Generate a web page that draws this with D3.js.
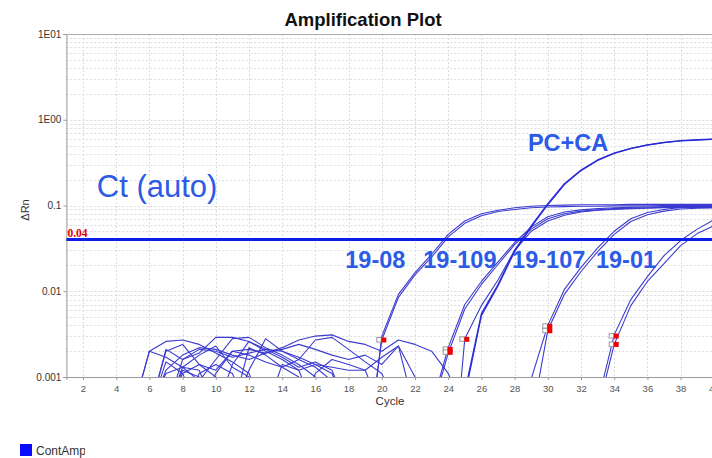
<!DOCTYPE html>
<html>
<head>
<meta charset="utf-8">
<script src="https://cdn.jsdelivr.net/npm/d3@7"></script>
<style>
  body { margin: 0; background: #fff; }
  svg { display: block; font-family: "Liberation Sans", Arial, sans-serif; }
</style>
</head>
<body>
<script>
"use strict";
(function(){
    // dimensions for svg
    const measurements = {
        width: 712,
        height: 458,
        left: 66.4,
        top: 34,
        bottom: 377,
        cycleWidth: 16.6
    }

    // ---- data ----
    const xTicks = [2, 4, 6, 8, 10, 12, 14, 16, 18, 20, 22, 24, 26, 28, 30, 32, 34, 36, 38, 40]
    const yTicks = [0.001, 0.01, 0.1, 1, 10]
    const yTickLabels = ["0.001", "0.01", "0.1", "1E00", "1E01"]
    const threshold = 0.04

    // baseline noise, cycles 5..25 (0.0004 = below the axis)
    const noiseStart = 5
    const noise1  = [0.0004, 0.0020, 0.0026, 0.0027, 0.0024, 0.0019, 0.0015, 0.0011, 0.0004, 0.0004, 0.0004, 0.0004, 0.0004, 0.0004, 0.0004, 0.0004, 0.0004, 0.0004, 0.0004, 0.0004, 0.0004]
    const noise2  = [0.0004, 0.0020, 0.0017, 0.0013, 0.0009, 0.0016, 0.0028, 0.0029, 0.0022, 0.0018, 0.0014, 0.0010, 0.0004, 0.0004, 0.0004, 0.0004, 0.0004, 0.0004, 0.0004, 0.0004, 0.0004]
    const noise3  = [0.0004, 0.0004, 0.0021, 0.0016, 0.0019, 0.0029, 0.0029, 0.0026, 0.0021, 0.0020, 0.0016, 0.0013, 0.0009, 0.0004, 0.0004, 0.0004, 0.0004, 0.0004, 0.0004, 0.0004, 0.0004]
    const noise4  = [0.0004, 0.0004, 0.0012, 0.0018, 0.0022, 0.0021, 0.0018, 0.0016, 0.0019, 0.0022, 0.0027, 0.0030, 0.0031, 0.0026, 0.0024, 0.0020, 0.0027, 0.0024, 0.0020, 0.0011, 0.0004]
    const noise5  = [0.0004, 0.0004, 0.0004, 0.0011, 0.0014, 0.0012, 0.0020, 0.0018, 0.0015, 0.0013, 0.0016, 0.0027, 0.0029, 0.0021, 0.0015, 0.0011, 0.0004, 0.0004, 0.0004, 0.0004, 0.0004]
    const noise6  = [0.0004, 0.0004, 0.0020, 0.0024, 0.0014, 0.0010, 0.0004, 0.0012, 0.0028, 0.0020, 0.0017, 0.0014, 0.0011, 0.0004, 0.0004, 0.0004, 0.0004, 0.0004, 0.0004, 0.0004, 0.0004]
    const noise7  = [0.0004, 0.0004, 0.0004, 0.0016, 0.0021, 0.0020, 0.0017, 0.0019, 0.0021, 0.0017, 0.0013, 0.0015, 0.0012, 0.0004, 0.0004, 0.0004, 0.0004, 0.0004, 0.0004, 0.0004, 0.0004]
    const noise8  = [0.0004, 0.0004, 0.0015, 0.0011, 0.0004, 0.0011, 0.0020, 0.0021, 0.0019, 0.0021, 0.0024, 0.0021, 0.0018, 0.0016, 0.0018, 0.0014, 0.0023, 0.0010, 0.0004, 0.0004, 0.0004]
    const noise9  = [0.0004, 0.0004, 0.0004, 0.0013, 0.0018, 0.0023, 0.0013, 0.0010, 0.0004, 0.0004, 0.0004, 0.0004, 0.0004, 0.0004, 0.0004, 0.0004, 0.0004, 0.0004, 0.0004, 0.0004, 0.0004]
    const noise10 = [0.0004, 0.0004, 0.0011, 0.0013, 0.0012, 0.0004, 0.0014, 0.0026, 0.0020, 0.0016, 0.0012, 0.0014, 0.0013, 0.0012, 0.0012, 0.0004, 0.0004, 0.0004, 0.0004, 0.0004, 0.0004]
    const noise11 = [0.0004, 0.0004, 0.0004, 0.0012, 0.0010, 0.0004, 0.0004, 0.0022, 0.0018, 0.0013, 0.0010, 0.0004, 0.0004, 0.0004, 0.0004, 0.0004, 0.0004, 0.0004, 0.0004, 0.0004, 0.0004]
    const noise12 = [0.0004, 0.0004, 0.0004, 0.0004, 0.0011, 0.0014, 0.0011, 0.0004, 0.0004, 0.0014, 0.0012, 0.0004, 0.0004, 0.0004, 0.0004, 0.0004, 0.0004, 0.0004, 0.0004, 0.0004, 0.0004]
    const noise13 = [0.0004, 0.0004, 0.0004, 0.0004, 0.0004, 0.0004, 0.0004, 0.0004, 0.0004, 0.0004, 0.0004, 0.0011, 0.0016, 0.0014, 0.0012, 0.0017, 0.0023, 0.0004, 0.0004, 0.0004, 0.0004]

    // amplification curves: first cycle + values up to cycle 40
    const s1908a = [0.00007, 0.003, 0.0092, 0.0165, 0.027, 0.046, 0.066, 0.08, 0.088, 0.094, 0.098, 0.1, 0.101, 0.102, 0.102, 0.102, 0.103, 0.103, 0.103, 0.103, 0.103, 0.103]
    const s1908b = [0.0001, 0.0027, 0.0085, 0.0155, 0.025, 0.043, 0.062, 0.076, 0.085, 0.09, 0.094, 0.096, 0.097, 0.098, 0.098, 0.099, 0.099, 0.099, 0.1, 0.1, 0.1, 0.1]
    const s19109a = [0.00045, 0.0022, 0.007, 0.013, 0.022, 0.037, 0.056, 0.074, 0.084, 0.089, 0.092, 0.094, 0.095, 0.096, 0.097, 0.097, 0.097, 0.097]
    const s19109b = [0.0004, 0.0019, 0.0062, 0.012, 0.0205, 0.035, 0.053, 0.07, 0.08, 0.086, 0.089, 0.092, 0.093, 0.094, 0.095, 0.095, 0.095, 0.095]
    const s19109c = [0.00002, 0.0028, 0.0068, 0.0135, 0.03, 0.05, 0.066, 0.077, 0.084, 0.088, 0.09, 0.092, 0.093, 0.094, 0.094, 0.095, 0.095]
    const sPCa = [0.00067, 0.0055, 0.012, 0.03, 0.058, 0.105, 0.18, 0.26, 0.34, 0.41, 0.465, 0.51, 0.545, 0.57, 0.585, 0.595]
    const sPCb = [0.0006, 0.0052, 0.0115, 0.029, 0.056, 0.102, 0.175, 0.255, 0.335, 0.405, 0.46, 0.505, 0.54, 0.565, 0.58, 0.59]
    const s19107a = [0.00095, 0.004, 0.0105, 0.019, 0.032, 0.05, 0.07, 0.083, 0.09, 0.095, 0.097, 0.098]
    const s19107b = [0.0003, 0.0035, 0.0092, 0.017, 0.029, 0.046, 0.065, 0.078, 0.086, 0.091, 0.093, 0.094]
    const s1901a = [0.0005, 0.0031, 0.008, 0.0148, 0.026, 0.039, 0.053, 0.068]
    const s1901b = [0.0004, 0.0024, 0.0068, 0.013, 0.021, 0.034, 0.047, 0.058]

    // baseline end markers
    const markerCycles = [20, 24, 24, 25, 30, 30, 34, 34]
    const markerValues = [0.0027, 0.0021, 0.00194, 0.00275, 0.0039, 0.00346, 0.003, 0.0024]

    // annotations anchored at (cycle, value)
    const sampleLabels = ["19-08", "19-109", "19-107", "19-01"]
    const sampleLabelCycles = [17.8, 22.5, 27.85, 32.9]
    const sampleLabelValue = 0.0185

    const svg = d3.select("body").append("svg")
        .attr("width", measurements.width)
        .attr("height", measurements.height)

    const scaleX = d3.scaleLinear()
        .domain([1, 41])
        .range([measurements.left, measurements.left + 40 * measurements.cycleWidth])
    const scaleY = d3.scaleLog()
        .domain([0.001, 10])
        .range([measurements.bottom, measurements.top])

    const series = []
    const noiseList = [noise1, noise2, noise3, noise4, noise5, noise6, noise7, noise8, noise9, noise10, noise11, noise12, noise13]
    noiseList.forEach(v => series.push({ start: noiseStart, values: v, pc: false }))
    const amp = [
        [19, s1908a], [19, s1908b], [23, s19109a], [23, s19109b], [24, s19109c],
        [29, s19107a], [29, s19107b], [33, s1901a], [33, s1901b]
    ]
    amp.forEach(a => series.push({ start: a[0], values: a[1], pc: false }))
    series.push({ start: 25, values: sPCa, pc: true })
    series.push({ start: 25, values: sPCb, pc: true })

    drawGrid()
    drawAxes()
    plotData()
    drawLabels()

    function drawGrid() {
        const grid = svg.append("g")
            .attr("stroke", "#dcdcdc")
            .attr("stroke-dasharray", "2,2")
            .attr("stroke-width", 1)
        // log minor lines
        grid.selectAll(".hgrid")
            .data(scaleY.ticks())
            .enter().append("line")
            .attr("x1", measurements.left)
            .attr("x2", measurements.width)
            .attr("y1", d => Math.round(scaleY(d)) + 0.5)
            .attr("y2", d => Math.round(scaleY(d)) + 0.5)
        grid.selectAll(".vgrid")
            .data(xTicks)
            .enter().append("line")
            .attr("x1", d => Math.round(scaleX(d)) + 0.5)
            .attr("x2", d => Math.round(scaleX(d)) + 0.5)
            .attr("y1", measurements.top)
            .attr("y2", measurements.bottom)
    }

    function drawAxes() {
        let xAxis = d3.axisBottom(scaleX)
            .tickValues(xTicks)
            .tickSize(3)
            .tickFormat(d3.format("d"))
        let yAxis = d3.axisLeft(scaleY)
            .tickValues(yTicks)
            .tickSize(3)
            .tickFormat((d, i) => yTickLabels[i])

        const gx = svg.append("g")
            .attr("transform", "translate(0," + measurements.bottom + ")")
            .call(xAxis)
        gx.select(".domain").attr("stroke", "#999")
        gx.selectAll(".tick line").attr("stroke", "#999")
        gx.selectAll(".tick text")
            .attr("fill", "#555")
            .attr("font-size", 9.5)
            .attr("font-family", "Liberation Sans, Arial, sans-serif")
            .attr("dy", "0.9em")

        const gy = svg.append("g")
            .attr("transform", "translate(" + measurements.left + ",0)")
            .call(yAxis)
        gy.select(".domain").attr("stroke", "#999")
        gy.selectAll(".tick line").attr("stroke", "#999")
        gy.selectAll(".tick text")
            .attr("fill", "#333")
            .attr("font-size", 10)
            .attr("font-family", "Liberation Sans, Arial, sans-serif")
            .attr("x", -5)

        // top frame line
        svg.append("line")
            .attr("x1", measurements.left)
            .attr("x2", measurements.width)
            .attr("y1", measurements.top + 0.5)
            .attr("y2", measurements.top + 0.5)
            .attr("stroke", "#aaa")
    }

    function plotData() {
        svg.append("clipPath").attr("id", "plotClip")
            .append("rect")
            .attr("x", measurements.left)
            .attr("y", measurements.top)
            .attr("width", measurements.width - measurements.left)
            .attr("height", measurements.bottom - measurements.top)

        const line = d3.line()
            .x(d => scaleX(d.c))
            .y(d => scaleY(d.v))

        const curves = svg.append("g").attr("clip-path", "url(#plotClip)")
        curves.selectAll("path")
            .data(series)
            .enter().append("path")
            .attr("d", s => line(s.values.map((v, i) => ({ c: s.start + i, v: v }))))
            .attr("fill", "none")
            .attr("stroke", s => s.pc ? "#2a2ad4" : "#3b3bd0")
            .attr("stroke-width", s => s.pc ? 1.2 : 1.1)
            .attr("stroke-linejoin", "round")

        // threshold
        svg.append("line")
            .attr("x1", measurements.left)
            .attr("x2", measurements.width)
            .attr("y1", scaleY(threshold))
            .attr("y2", scaleY(threshold))
            .attr("stroke", "#0d1fe6")
            .attr("stroke-width", 3)

        svg.append("text")
            .attr("x", measurements.left + 1)
            .attr("y", scaleY(threshold) - 3)
            .attr("fill", "#e00000")
            .attr("font-family", "Liberation Serif, Times New Roman, serif")
            .attr("font-weight", "bold")
            .attr("font-size", 11.5)
            .text(threshold)

        // markers: grey outline + red square
        const marks = svg.append("g")
        marks.selectAll(".grey")
            .data(markerCycles)
            .enter().append("rect")
            .attr("x", d => scaleX(d) - 5)
            .attr("y", (d, i) => scaleY(markerValues[i]) - 2.5)
            .attr("width", 4.5)
            .attr("height", 4.5)
            .attr("fill", "#fff")
            .attr("stroke", "#999")
        marks.selectAll(".red")
            .data(markerCycles)
            .enter().append("rect")
            .attr("x", d => scaleX(d) - 0.5)
            .attr("y", (d, i) => scaleY(markerValues[i]) - 2.5)
            .attr("width", 5)
            .attr("height", 5)
            .attr("fill", "#f00000")
    }

    function drawLabels() {
        svg.append("text")
            .attr("x", 363)
            .attr("y", 26)
            .attr("text-anchor", "middle")
            .attr("font-weight", "bold")
            .attr("font-size", 18.5)
            .attr("fill", "#111")
            .text("Amplification Plot")

        svg.append("text")
            .attr("x", 390)
            .attr("y", 405)
            .attr("text-anchor", "middle")
            .attr("font-size", 11.5)
            .attr("fill", "#333")
            .text("Cycle")

        svg.append("text")
            .attr("transform", "translate(28.5,210) rotate(-90)")
            .attr("text-anchor", "middle")
            .attr("font-size", 11)
            .attr("fill", "#333")
            .text("\u0394Rn")

        const blue = "#2c5be6"
        svg.append("text")
            .attr("x", scaleX(2.83))
            .attr("y", scaleY(0.126))
            .attr("font-size", 31)
            .attr("fill", blue)
            .text("Ct (auto)")

        svg.append("text")
            .attr("x", scaleX(28.8))
            .attr("y", scaleY(0.435))
            .attr("font-size", 23.5)
            .attr("font-weight", "bold")
            .attr("fill", blue)
            .text("PC+CA")

        svg.selectAll(".sample")
            .data(sampleLabels)
            .enter().append("text")
            .attr("x", (d, i) => scaleX(sampleLabelCycles[i]))
            .attr("y", scaleY(sampleLabelValue))
            .attr("font-size", 23.5)
            .attr("font-weight", "bold")
            .attr("fill", blue)
            .text(d => d)

        // legend (label is cut off in the original export)
        svg.append("clipPath").attr("id", "legClip")
            .append("rect").attr("x", 0).attr("y", 430).attr("width", 85).attr("height", 28)
        const leg = svg.append("g").attr("clip-path", "url(#legClip)")
        leg.append("rect")
            .attr("x", 20).attr("y", 444)
            .attr("width", 12).attr("height", 12)
            .attr("fill", "#0a0aff")
        leg.append("text")
            .attr("x", 36).attr("y", 455)
            .attr("font-size", 12)
            .attr("fill", "#333")
            .text("ContAmp")
    }
})()
</script>
</body>
</html>
